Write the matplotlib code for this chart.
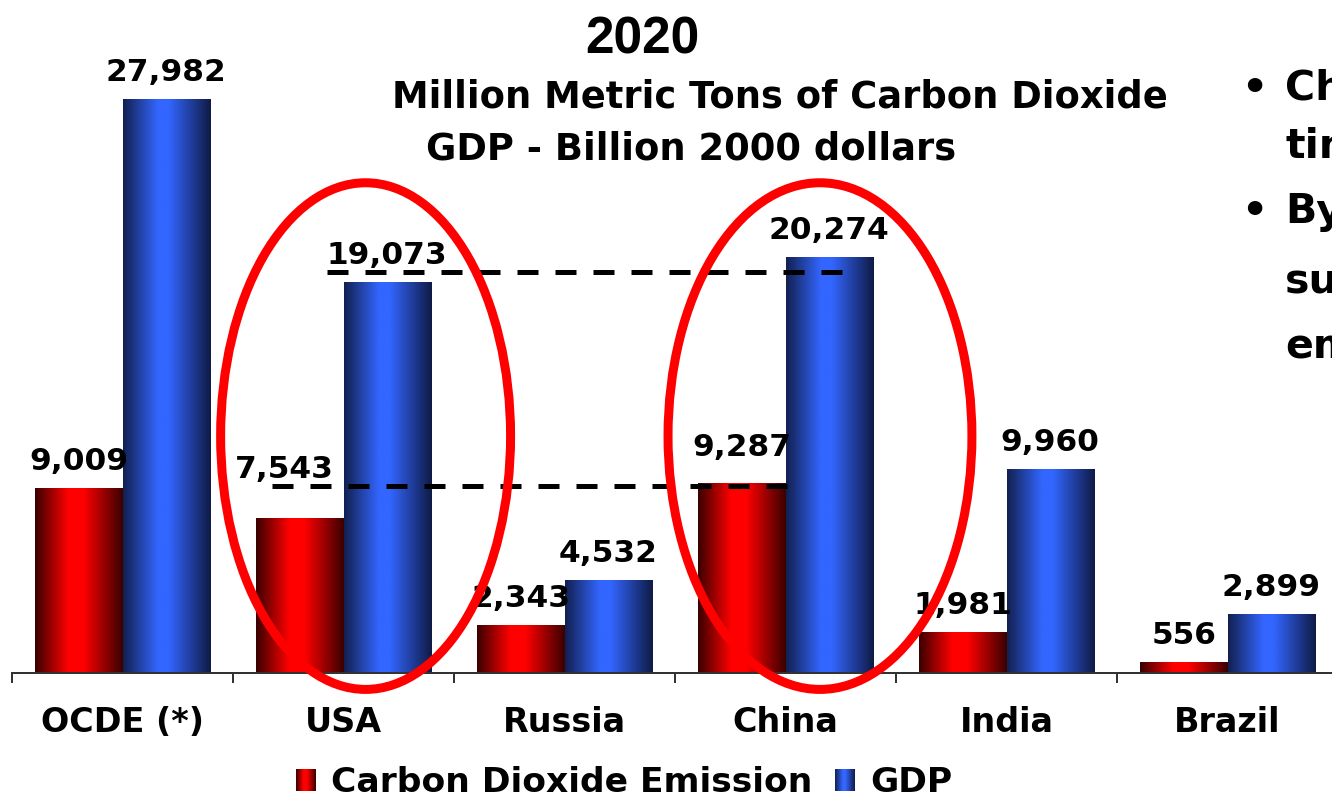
import numpy as np
import matplotlib
matplotlib.use("Agg")
import matplotlib.pyplot as plt
from matplotlib.colors import LinearSegmentedColormap
from matplotlib.patches import Ellipse, Rectangle, Patch
from matplotlib.legend_handler import HandlerBase

# ---- data -------------------------------------------------------------
countries = ["OCDE (*)", "USA", "Russia", "China", "India", "Brazil"]
co2_emission = [9009, 7543, 2343, 9287, 1981, 556]       # million metric tons CO2
gdp = [27982, 19073, 4532, 20274, 9960, 2899]            # billion 2000 dollars

title = "2020"
subtitle_1 = "Million Metric Tons of Carbon Dioxide"
subtitle_2 = "GDP - Billion 2000 dollars"
series_names = ["Carbon Dioxide Emission", "GDP"]
side_notes = [("•", "China"), ("", "times"), ("•", "By"), ("", "surpass"), ("", "emissions")]

# ---- figure geometry --------------------------------------------------
W, H, DPI = 1332, 799, 100
PT = 72.0 / DPI                     # points per pixel
plt.rcParams["lines.scale_dashes"] = False
BOLD = dict(family="DejaVu Sans", weight="bold")

fig = plt.figure(figsize=(W / DPI, H / DPI), dpi=DPI)
fig.patch.set_facecolor("white")
ax = fig.add_axes([12 / W, 126 / H, 1326 / W, 673 / H])
YMAX = 32810
ax.set_xlim(-0.5, len(countries) - 0.5)
ax.set_ylim(0, YMAX)

red_cmap = LinearSegmentedColormap.from_list(
    "cyl_red", [(0, "#3a0000"), (0.38, "#ff0000"), (0.55, "#ff0000"), (1, "#3a0000")])
blue_cmap = LinearSegmentedColormap.from_list(
    "cyl_blue", [(0, "#122050"), (0.40, "#3366ff"), (0.52, "#3366ff"), (1, "#0f1a45")])

x = np.arange(len(countries))
bw = 0.394
bars_co2 = ax.bar(x - bw / 2, co2_emission, bw, color="#ff0000", zorder=2)
bars_gdp = ax.bar(x + bw / 2, gdp, bw, color="#3366ff", zorder=2)

# cylinder-like horizontal shading clipped to each bar
grad = np.linspace(0, 1, 256).reshape(1, -1)
for bars, cmap in ((bars_co2, red_cmap), (bars_gdp, blue_cmap)):
    for b in bars:
        x0, w, h = b.get_x(), b.get_width(), b.get_height()
        im = ax.imshow(grad, cmap=cmap, extent=(x0, x0 + w, 0, h), aspect="auto",
                       interpolation="bilinear", zorder=2.1)
        im.set_clip_path(b)
ax.set_xlim(-0.5, len(countries) - 0.5)
ax.set_ylim(0, YMAX)

# value labels (a couple nudged to stay clear of the guide lines)
nudge = {(0, 1): (-16, 22), (0, 3): (0, 9)}
for s, (bars, vals) in enumerate(((bars_co2, co2_emission), (bars_gdp, gdp))):
    for i, (b, v) in enumerate(zip(bars, vals)):
        dx, dy = nudge.get((s, i), (0, 0))
        ax.annotate(f"{v:,}", (b.get_x() + b.get_width() / 2, v),
                    xytext=(dx * PT, (18 + dy) * PT), textcoords="offset points",
                    ha="center", va="baseline", fontsize=22.5, zorder=3, **BOLD)

# dashed comparison guides
guides = [(19560, 0.925, 3.30), (9120, 0.676, 3.052)]
for yv, xa, xb in guides:
    ax.plot([xa, xb], [yv, yv], color="black", lw=5 * PT,
            dashes=(21 * PT, 17 * PT), solid_capstyle="butt",
            dash_capstyle="butt", zorder=4)

# highlight ellipses
for xc, ew in ((1.10, 1.312), (3.156, 1.375)):
    ax.add_patch(Ellipse((xc, 11550), ew, 24700, fill=False, edgecolor="#ff0000",
                         lw=9 * PT, zorder=5, clip_on=False))

# axes styling
for side in ("left", "right", "top"):
    ax.spines[side].set_visible(False)
ax.spines["bottom"].set_color("#333333")
ax.spines["bottom"].set_linewidth(2 * PT)
ax.set_yticks([])
ax.set_xticks(x)
ax.set_xticklabels(countries, fontsize=24, **BOLD)
ax.set_xticks(np.arange(-0.5, len(countries) + 0.5, 1), minor=True)
ax.tick_params(axis="x", which="major", length=0, pad=24)
ax.tick_params(axis="x", which="minor", length=10 * PT, width=2 * PT,
               color="#333333", direction="out")

# titles
fig.text(642 / W, 1 - 53 / H, title, ha="center", va="baseline",
         fontsize=37, family="Liberation Sans", weight="bold")
fig.text(780 / W, 1 - 108 / H, subtitle_1, ha="center", va="baseline",
         fontsize=26.6, **BOLD)
fig.text(691 / W, 1 - 160 / H, subtitle_2, ha="center", va="baseline",
         fontsize=26.6, **BOLD)

# side notes running off the right edge
for (bullet, word), base in zip(side_notes, (100, 158, 223, 293, 358)):
    if bullet:
        fig.text(1254 / W, 1 - base / H, bullet, ha="center", va="baseline",
                 fontsize=29.6, **BOLD)
    fig.text(1285 / W, 1 - base / H, word, ha="left", va="baseline",
             fontsize=29.6, **BOLD)


# legend with shaded swatches
class ShadedSwatch(HandlerBase):
    def __init__(self, cmap, n=20):
        super().__init__()
        self.cmap, self.n = cmap, n

    def create_artists(self, legend, orig_handle, xdescent, ydescent,
                       width, height, fontsize, trans):
        strips = []
        for k in range(self.n):
            strips.append(Rectangle((-xdescent + width * k / self.n, -ydescent),
                                    width / self.n * 1.05, height,
                                    facecolor=self.cmap((k + 0.5) / self.n),
                                    edgecolor="none", transform=trans))
        return strips


h_co2 = Patch(facecolor="#ff0000")
h_gdp = Patch(facecolor="#3366ff")
leg = fig.legend([h_co2, h_gdp], series_names, loc="center",
                 bbox_to_anchor=(624 / W, 1 - 783 / H), ncol=2, frameon=False,
                 prop=dict(size=24.8, **BOLD), handlelength=0.58, handleheight=0.6,
                 handletextpad=0.45, columnspacing=0.65, borderpad=0,
                 handler_map={h_co2: ShadedSwatch(red_cmap), h_gdp: ShadedSwatch(blue_cmap)})

fig.savefig("out.png", dpi=DPI, facecolor="white")
